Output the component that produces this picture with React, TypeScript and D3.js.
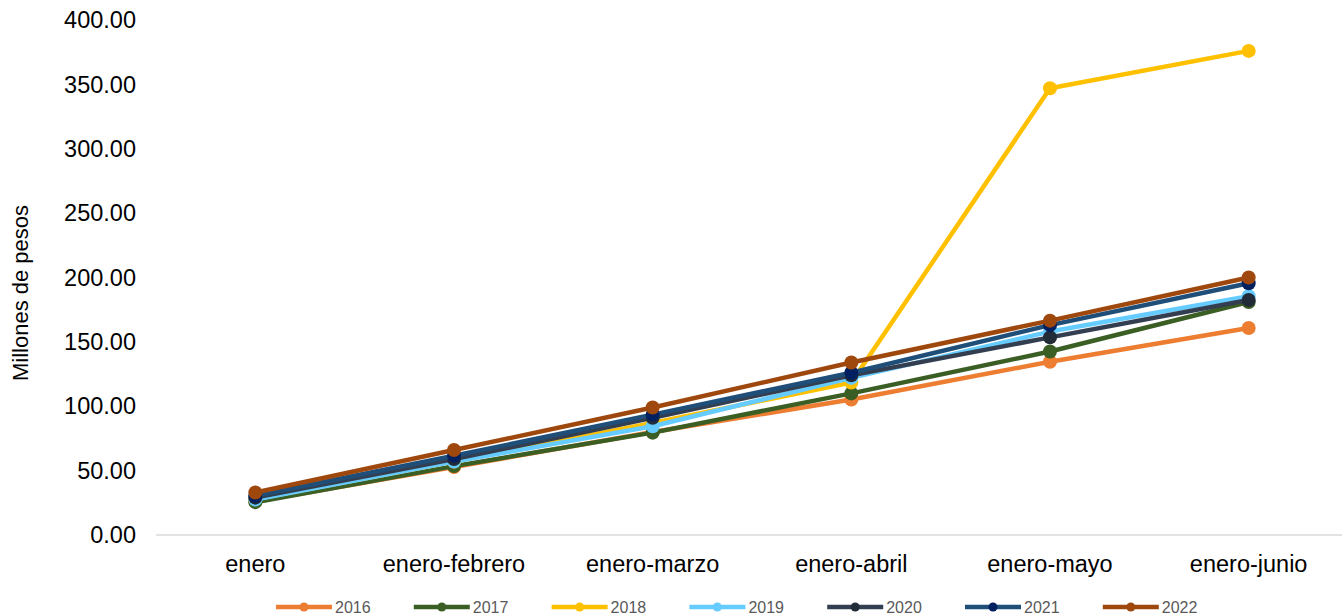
import React from "react";
import * as d3 from "d3";

const categories = ["enero", "enero-febrero", "enero-marzo", "enero-abril", "enero-mayo", "enero-junio"];
const years = ["2016", "2017", "2018", "2019", "2020", "2021", "2022"];
const v2016 = [26, 52.8, 80, 105.2, 134.6, 160.8];
const v2017 = [25.5, 53.5, 79.5, 110, 142.5, 181];
const v2018 = [28, 57, 87, 118.5, 347, 376];
const v2019 = [27.5, 57, 84.5, 122, 158, 185.5];
const v2020 = [29, 59, 91, 124, 153.5, 182.5];
const v2021 = [30.5, 61.5, 93.5, 126, 163, 195.5];
const v2022 = [33, 66, 99, 134, 166.5, 200];
const yTicks = [0, 50, 100, 150, 200, 250, 300, 350, 400];
const lineColors = ["#ED7D31", "#3B5E24", "#FFC000", "#66CCFF", "#333F50", "#1F4E79", "#9E480E"];
const markerColors = ["#ED7D31", "#3B5E24", "#FFC000", "#66CCFF", "#222B38", "#002060", "#9E480E"];

const seriesValues = [v2016, v2017, v2018, v2019, v2020, v2021, v2022];

export default function App() {
  const W = 1342, H = 616;
  const left = 156, right = 1348, top = 20, bottom = 535;
  const x = d3.scaleBand<string>().domain(categories).range([left, right]);
  const y = d3.scaleLinear().domain([0, 400]).range([bottom, top]);
  const cx = (c: string) => (x(c) as number) + x.bandwidth() / 2;
  const line = d3.line<number>().x((_, i) => cx(categories[i])).y((d) => y(d));
  const legendStart = 276, legendStep = 137.8;

  return (
    <svg width={W} height={H} style={{ position: "absolute", left: 0, top: 0, fontFamily: "'Liberation Sans', Arial, sans-serif" }}>
      <rect width={W} height={H} fill="#fff" />
      <line x1={left} x2={W} y1={bottom} y2={bottom} stroke="#D9D9D9" strokeWidth={1.5} />
      {yTicks.map((t) => (
        <text key={t} x={136} y={y(t)} dy="0.35em" textAnchor="end" fontSize={23.5} fill="#000">
          {t.toFixed(2)}
        </text>
      ))}
      <text transform={`translate(28,293) rotate(-90)`} textAnchor="middle" fontSize={22} fill="#000">
        Millones de pesos
      </text>
      {categories.map((c) => (
        <text key={c} x={cx(c)} y={571.5} textAnchor="middle" fontSize={23.5} fill="#000">
          {c}
        </text>
      ))}
      {seriesValues.map((vals, si) => (
        <g key={years[si]}>
          <path d={line(vals) || ""} fill="none" stroke={lineColors[si]} strokeWidth={4.5} strokeLinejoin="round" />
          {vals.map((v, i) => (
            <circle key={i} cx={cx(categories[i])} cy={y(v)} r={7} fill={markerColors[si]} />
          ))}
        </g>
      ))}
      {years.map((yr, i) => {
        const lx = legendStart + i * legendStep;
        return (
          <g key={yr}>
            <line x1={lx} x2={lx + 56} y1={607} y2={607} stroke={lineColors[i]} strokeWidth={4.5} />
            <circle cx={lx + 28} cy={607} r={4.5} fill={markerColors[i]} />
            <text x={lx + 59} y={607} dy="0.35em" fontSize={16} fill="#595959">
              {yr}
            </text>
          </g>
        );
      })}
    </svg>
  );
}
